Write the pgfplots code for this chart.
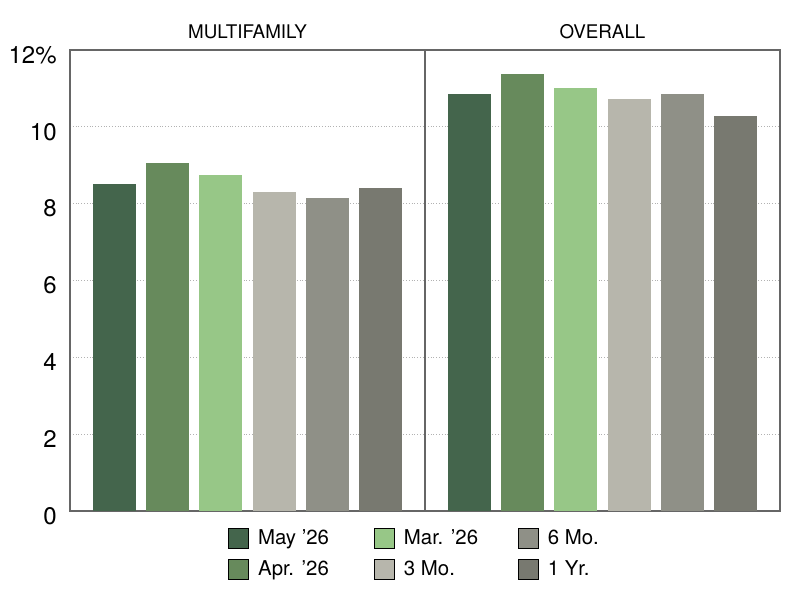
\documentclass[border=0pt]{standalone}
\usepackage{pgfplots}
\pgfplotsset{compat=1.18}
\usepackage{fontspec}
\setmainfont{TeX Gyre Heros}
\definecolor{cMay}{HTML}{44654C}
\definecolor{cApr}{HTML}{678A5C}
\definecolor{cMar}{HTML}{97C787}
\definecolor{cThree}{HTML}{B7B6AC}
\definecolor{cSix}{HTML}{8F9087}
\definecolor{cYr}{HTML}{787970}
\pgfplotsset{
  panel/.style={
    scale only axis, width=177.5pt, height=230.5pt,
    xmin=-0.84, xmax=5.84, ymin=0, ymax=12,
    xtick=\empty, ytick={0,2,4,6,8,10,12},
    major tick length=0pt,
    ymajorgrids, grid style={densely dotted, draw=black!30, line width=0.5pt},
    axis line style={draw=black!60, line width=0.7pt},
    title style={font=\fontsize{9.4}{11}\selectfont, at={(0.5,1)}, anchor=base, yshift=-0.5pt},
    /pgf/number format/assume math mode=true,
  },
  bb/.style={ybar, bar width=21.5pt, bar shift=0pt, draw=none, fill=#1, forget plot},
}
\begin{document}
\begin{tikzpicture}
\path[use as bounding box] (-35pt,-44.5pt) rectangle (365pt,255.5pt);
\begin{axis}[panel, at={(0pt,0pt)}, anchor=south west,
  title={MULTIFAMILY},
  yticklabels={0,2,4,6,8,10,12\%},
  yticklabel style={font=\fontsize{12}{13}\selectfont, inner sep=0pt, anchor=east, xshift=-6.5pt, yshift=-2.5pt},
  legend style={at={(0.445,-0.037)}, anchor=north west, draw=none, fill=none, inner sep=0pt,
    font=\fontsize{10.2}{12}\selectfont, row sep=5pt,
    nodes={inner sep=0pt, anchor=west},
    /tikz/every odd column/.append style={column sep=4.5pt}},
  legend columns=3,
  legend image code/.code={\fill[#1] (0pt,-5pt) rectangle (10pt,5pt);},
]
\addplot[bb=cMay] coordinates {(0,8.51)};
\addplot[bb=cApr] coordinates {(1,9.07)};
\addplot[bb=cMar] coordinates {(2,8.75)};
\addplot[bb=cThree] coordinates {(3,8.30)};
\addplot[bb=cSix] coordinates {(4,8.15)};
\addplot[bb=cYr] coordinates {(5,8.42)};
\addlegendimage{fill=cMay}\addlegendentry{\makebox[58pt][l]{May ’26}}
\addlegendimage{fill=cMar}\addlegendentry{\makebox[57pt][l]{Mar. ’26}}
\addlegendimage{fill=cSix}\addlegendentry{\makebox[40pt][l]{6 Mo.}}
\addlegendimage{fill=cApr}\addlegendentry{\makebox[58pt][l]{Apr. ’26}}
\addlegendimage{fill=cThree}\addlegendentry{\makebox[57pt][l]{3 Mo.}}
\addlegendimage{fill=cYr}\addlegendentry{\makebox[40pt][l]{1 Yr.}}
\end{axis}
\begin{axis}[panel, at={(177.5pt,0pt)}, anchor=south west,
  title={OVERALL},
  yticklabels=\empty,
]
\addplot[bb=cMay] coordinates {(0,10.85)};
\addplot[bb=cApr] coordinates {(1,11.37)};
\addplot[bb=cMar] coordinates {(2,11.00)};
\addplot[bb=cThree] coordinates {(3,10.73)};
\addplot[bb=cSix] coordinates {(4,10.85)};
\addplot[bb=cYr] coordinates {(5,10.29)};
\end{axis}
\end{tikzpicture}
\end{document}
